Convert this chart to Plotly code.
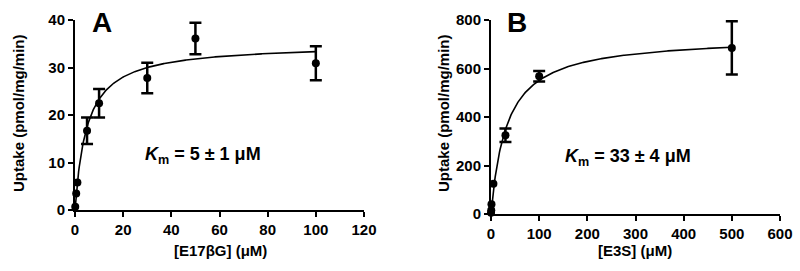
import numpy as np
import plotly.graph_objects as go

# Panel A: E17bG uptake
a_conc = [0.1, 0.5, 1, 5, 10, 30, 50, 100]
a_uptake = [0.7, 3.5, 5.8, 16.7, 22.5, 27.8, 36.1, 30.9]
a_err = [None, None, None, 2.8, 3.0, 3.2, 3.3, 3.6]
a_vmax, a_km = 35.0, 5.0

# Panel B: E3S uptake
b_conc = [0.1, 0.5, 1, 5, 30, 100, 500]
b_uptake = [5, 15, 40, 125, 325, 568, 685]
b_err = [None, None, None, None, 28, 22, 110]
b_vmax, b_km = 733.0, 33.0

a_ticks = [0, 20, 40, 60, 80, 100, 120]
a_yticks = [0, 10, 20, 30, 40]
b_ticks = [0, 100, 200, 300, 400, 500, 600]
b_yticks = [0, 200, 400, 600, 800]

FONT = "Liberation Sans, Arial, sans-serif"

fig = go.Figure()

def add_panel(conc, up, err, vmax, km, xa, ya):
    xs = np.linspace(0, max(conc), 400)
    fig.add_trace(go.Scatter(x=xs, y=vmax * xs / (km + xs), mode="lines",
                             line=dict(color="black", width=1.6),
                             xaxis=xa, yaxis=ya, hoverinfo="skip", cliponaxis=False))
    with_err = [i for i, e in enumerate(err) if e is not None]
    no_err = [i for i, e in enumerate(err) if e is None]
    fig.add_trace(go.Scatter(x=[conc[i] for i in no_err], y=[up[i] for i in no_err],
                             mode="markers", marker=dict(color="black", size=8),
                             xaxis=xa, yaxis=ya, cliponaxis=False))
    fig.add_trace(go.Scatter(x=[conc[i] for i in with_err], y=[up[i] for i in with_err],
                             mode="markers", marker=dict(color="black", size=8),
                             error_y=dict(type="data", array=[err[i] for i in with_err],
                                          visible=True, color="black", thickness=2.5, width=6),
                             xaxis=xa, yaxis=ya, cliponaxis=False))

add_panel(a_conc, a_uptake, a_err, a_vmax, a_km, "x", "y")
add_panel(b_conc, b_uptake, b_err, b_vmax, b_km, "x2", "y2")

axis_common = dict(showline=True, linecolor="black", linewidth=2, ticks="outside",
                   ticklen=5, tickwidth=2, tickcolor="black", showgrid=False,
                   zeroline=False, automargin=False,
                   tickfont=dict(family=FONT, size=15, color="black", weight="bold"))

fig.update_layout(
    width=800, height=271, margin=dict(l=0, r=0, t=0, b=0),
    paper_bgcolor="white", plot_bgcolor="white", showlegend=False,
    xaxis=dict(domain=[75/800, 364/800], range=[0, 120], tickvals=a_ticks,
               anchor="y", **axis_common),
    yaxis=dict(domain=[61/271, 251/271], range=[0, 40], tickvals=a_yticks,
               anchor="x", **axis_common),
    xaxis2=dict(domain=[491/800, 780/800], range=[0, 600], tickvals=b_ticks,
                anchor="y2", **axis_common),
    yaxis2=dict(domain=[57/271, 251/271], range=[0, 800], tickvals=b_yticks,
                anchor="x2", **axis_common),
)

def ann(text, x, y, size, angle=0, xanchor="center"):
    fig.add_annotation(text=text, x=x/800, y=1 - y/271, xref="paper", yref="paper",
                       showarrow=False, textangle=angle, xanchor=xanchor, yanchor="middle",
                       font=dict(family=FONT, size=size, color="black", weight="bold"))

ann("A", 102, 22, 28)
ann("B", 517, 22, 28)
ann("[E17βG] (μM)", 220, 250, 15)
ann("[E3S] (μM)", 635, 250, 15)
ann("Uptake (pmol/mg/min)", 18, 113, 15, angle=-90)
ann("Uptake (pmol/mg/min)", 443, 113, 15, angle=-90)
ann("<i>K</i><sub>m</sub> = 5 ± 1 μM", 143, 155, 18, xanchor="left")
ann("<i>K</i><sub>m</sub> = 33 ± 4 μM", 563, 157, 18, xanchor="left")

fig.write_html("out.html", config={"displayModeBar": False},
               post_script="document.body.style.margin='0';")
